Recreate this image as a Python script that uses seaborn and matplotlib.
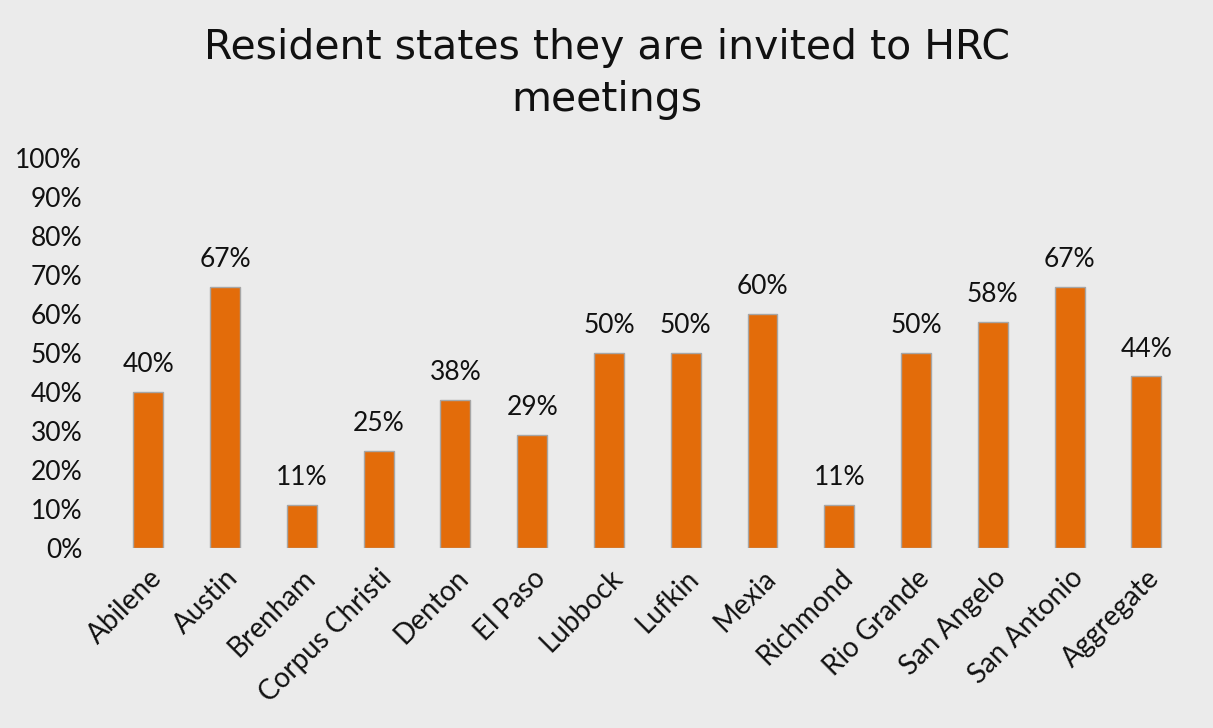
import matplotlib
matplotlib.use("Agg")
import matplotlib.pyplot as plt
import seaborn as sns
import pandas as pd

# Share of residents at each site who say they are invited to HRC meetings
sites = ["Abilene", "Austin", "Brenham", "Corpus Christi", "Denton", "El Paso",
         "Lubbock", "Lufkin", "Mexia", "Richmond", "Rio Grande", "San Angelo",
         "San Antonio", "Aggregate"]
pct_invited = [40, 67, 11, 25, 38, 29, 50, 50, 60, 11, 50, 58, 67, 44]
y_ticks = [0, 10, 20, 30, 40, 50, 60, 70, 80, 90, 100]

df = pd.DataFrame({"site": sites, "pct": pct_invited})

sns.set_theme(style="white")
plt.rcParams["font.family"] = ["Lato", "DejaVu Sans"]

bg = "#EBEBEB"
bar_color = "#E36C0A"
txt = "#111111"
fs = 19

fig = plt.figure(figsize=(12.13, 7.28), dpi=100, facecolor=bg)
ax = fig.add_axes([0.0907, 0.247, 0.886, 0.536])
ax.set_facecolor(bg)

sns.barplot(data=df, x="site", y="pct", color=bar_color, width=0.39,
            edgecolor="#A6A6A6", linewidth=1.0, saturation=1, ax=ax)

for i, v in enumerate(pct_invited):
    ax.text(i, v + 3.8, f"{v}%", ha="center", va="bottom", fontsize=fs,
            color=txt)

ax.set_xlim(-0.5, len(sites) - 0.5)
ax.set_ylim(0, 100)
ax.set_yticks(y_ticks)
ax.set_yticklabels([f"{t}%" for t in y_ticks], fontsize=fs, color=txt)
ax.set_xticks(range(len(sites)))
ax.set_xticklabels(sites, rotation=45, ha="right", rotation_mode="anchor",
                   fontsize=20, color=txt)
ax.tick_params(axis="y", length=0, pad=20)
ax.tick_params(axis="x", length=0, pad=12)
ax.set_xlabel("")
ax.set_ylabel("")
for s in ax.spines.values():
    s.set_visible(False)

fig.text(0.5, 0.898, "Resident states they are invited to HRC\nmeetings",
         ha="center", va="center", fontsize=29.5, color=txt,
         family=["DejaVu Sans"], linespacing=1.4)

fig.savefig("out.png", dpi=100, facecolor=bg)
